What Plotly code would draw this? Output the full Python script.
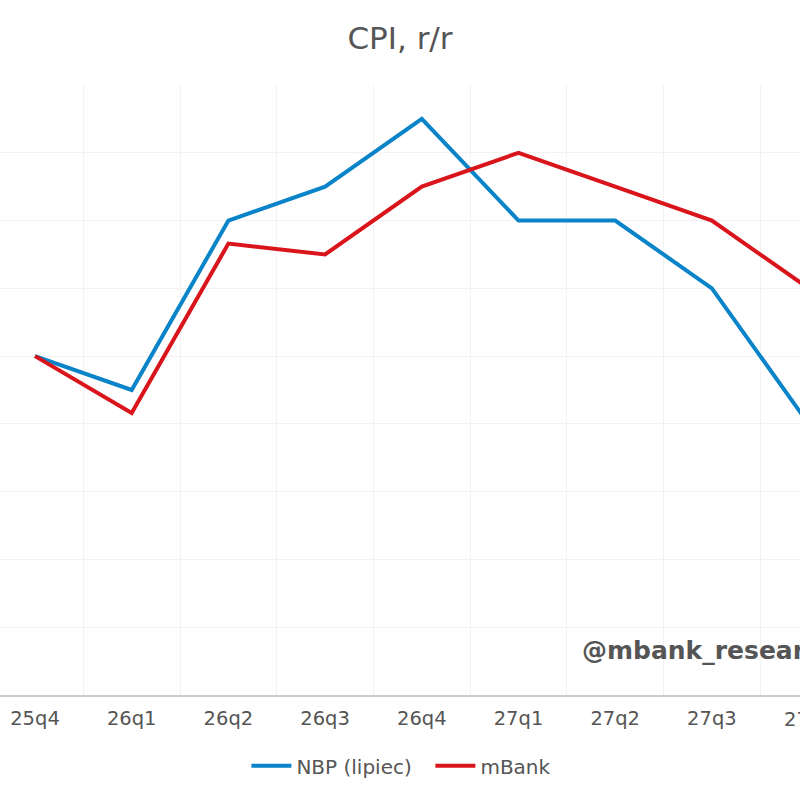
import plotly.graph_objects as go

quarters = ["25q4", "26q1", "26q2", "26q3", "26q4", "27q1", "27q2", "27q3", "27q4"]
nbp = [2.5, 2.25, 3.5, 3.75, 4.25, 3.5, 3.5, 3.0, 2.0]
mbank = [2.5, 2.08, 3.33, 3.25, 3.75, 4.0, 3.75, 3.5, 3.0]

font_main = "DejaVu Sans, Verdana, sans-serif"
grey = "#555555"

fig = go.Figure()
fig.add_trace(go.Scatter(x=quarters, y=nbp, name="NBP (lipiec)", mode="lines",
                         line=dict(color="#0a84c8", width=4)))
fig.add_trace(go.Scatter(x=quarters, y=mbank, name="mBank", mode="lines",
                         line=dict(color="#d9141b", width=4)))

sp = 96.7
x0 = 35
fig.update_layout(
    width=800, height=800,
    margin=dict(l=0, r=0, t=85, b=105),
    paper_bgcolor="white", plot_bgcolor="white",
    title=dict(text="CPI, r/r", x=0.5, xanchor="center", y=1 - 38 / 800, yanchor="middle",
               font=dict(family=font_main, size=31, color=grey)),
    font=dict(family=font_main, color=grey),
    legend=dict(orientation="h", x=0.538, xanchor="center", y=-0.116, yanchor="middle",
                font=dict(size=20, color=grey), itemwidth=40, traceorder="normal",
                entrywidth=129, entrywidthmode="pixels"),
    showlegend=True,
)
fig.update_xaxes(
    type="category", categoryorder="array", categoryarray=quarters,
    range=[-x0 / sp, (800 - x0) / sp],
    tickson="boundaries", showgrid=True, gridcolor="#f2f2f2", gridwidth=1,
    showline=True, linecolor="#cccccc", linewidth=2,
    ticks="", tickfont=dict(size=19.5, color=grey), ticklabelstandoff=5,
    zeroline=False,
)
fig.update_yaxes(
    range=[0, 4.5], dtick=0.5, tick0=0, showgrid=True, gridcolor="#f2f2f2", gridwidth=1,
    showticklabels=False, zeroline=False, showline=False,
)
# partially visible last category label (just past the right edge)
fig.add_annotation(x=(x0 + sp * (len(quarters) - 1)) / 800, y=0, xref="paper", yref="paper",
                   text=quarters[-1], showarrow=False, xanchor="center",
                   yanchor="top", yshift=-11, font=dict(size=19.5, color=grey, family=font_main))
fig.add_annotation(x=580 / 800, y=0, xref="paper", yref="paper", text="<b>@mbank_research</b>",
                   showarrow=False, xanchor="left", yanchor="middle", yshift=45,
                   font=dict(size=25, color="#555555", family=font_main))

fig.write_html("out.html")
